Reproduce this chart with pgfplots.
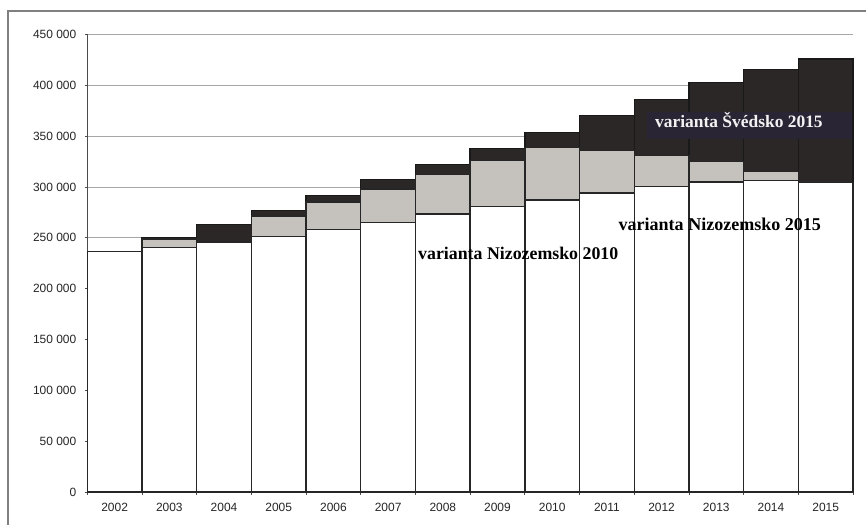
\documentclass[border=0pt]{standalone}
\usepackage{pgfplots}
\pgfplotsset{compat=1.18}
\usepackage{fontspec}
\setmainfont{Liberation Serif}
\newfontfamily\sansf{Liberation Sans}
\definecolor{midgray}{RGB}{197,193,189}
\definecolor{darkbar}{RGB}{43,39,39}
\definecolor{boxcol}{RGB}{42,37,53}
\begin{document}
\begin{tikzpicture}
\useasboundingbox (0,0) rectangle (866bp,525bp);
\fill[white] (0,0) rectangle (866bp,525bp);
\draw[black!50, line width=1.5bp] (8bp,0) -- (8bp,514bp) -- (866bp,514bp);
\begin{axis}[
  at={(87.3bp,33bp)}, anchor=south west,
  scale only axis, width=765.7bp, height=457.5bp,
  xmin=-0.5, xmax=13.5, ymin=0, ymax=450000,
  enlargelimits=false, clip=false,
  ybar stacked, bar width=1,
  axis x line*=bottom, axis y line*=left,
  axis line style={black!70, line width=1.2bp},
  ymajorgrids, grid style={black!35, line width=0.8bp},
  ytick={0,50000,...,450000},
  yticklabels={0,50 000,100 000,150 000,200 000,250 000,300 000,350 000,400 000,450 000},
  xtick={-0.5,0.5,...,13.5},
  x tick label as interval,
  xticklabels={2002,2003,2004,2005,2006,2007,2008,2009,2010,2011,2012,2013,2014,2015},
  scaled y ticks=false,
  tick align=outside, major tick length=2.5bp,
  tick style={black!70, line width=0.8bp},
  ticklabel style={font=\sansf\fontsize{12}{12}\selectfont, text=black!85},
  yticklabel style={xshift=-5bp},
  xticklabel style={yshift=-5bp},
]
\addplot[fill=white, draw=black!85, line width=1.4bp] coordinates {
(0,236500) (1,240400) (2,245900) (3,251300) (4,258000) (5,265200) (6,273400)
(7,280600) (8,287400) (9,294000) (10,300700) (11,305100) (12,306500) (13,304400)};
\addplot[fill=midgray, draw=black!85, line width=1.4bp] coordinates {
(0,0) (1,8400) (2,0) (3,20100) (4,27200) (5,32800) (6,38700)
(7,45500) (8,51600) (9,42100) (10,30100) (11,20000) (12,8900) (13,0)};
\addplot[fill=darkbar, draw=black!90, line width=1.4bp] coordinates {
(0,0) (1,1000) (2,17100) (3,5300) (4,6500) (5,9100) (6,9800)
(7,11800) (8,14500) (9,34100) (10,55100) (11,77500) (12,99900) (13,121600)};
\coordinate (L1) at (axis cs:5.546,228200);
\coordinate (L2) at (axis cs:9.211,257700);
\coordinate (L3) at (axis cs:9.732,358700);
\end{axis}
\node[anchor=base west, inner sep=0pt, font=\bfseries\fontsize{17.9}{18}\selectfont]
  at (L1) {varianta Nizozemsko 2010};
\node[anchor=base west, inner sep=0pt, font=\bfseries\fontsize{18.1}{18}\selectfont]
  at (L2) {varianta Nizozemsko 2015};
\node[anchor=base west, inner xsep=8bp, inner ysep=0pt, fill=boxcol, text=white!95!black,
  font=\bfseries\fontsize{17.5}{18}\selectfont]
  at (L3) {\rule[-11.7bp]{0pt}{27bp}varianta Švédsko 2015\hspace*{21bp}};
\end{tikzpicture}
\end{document}
